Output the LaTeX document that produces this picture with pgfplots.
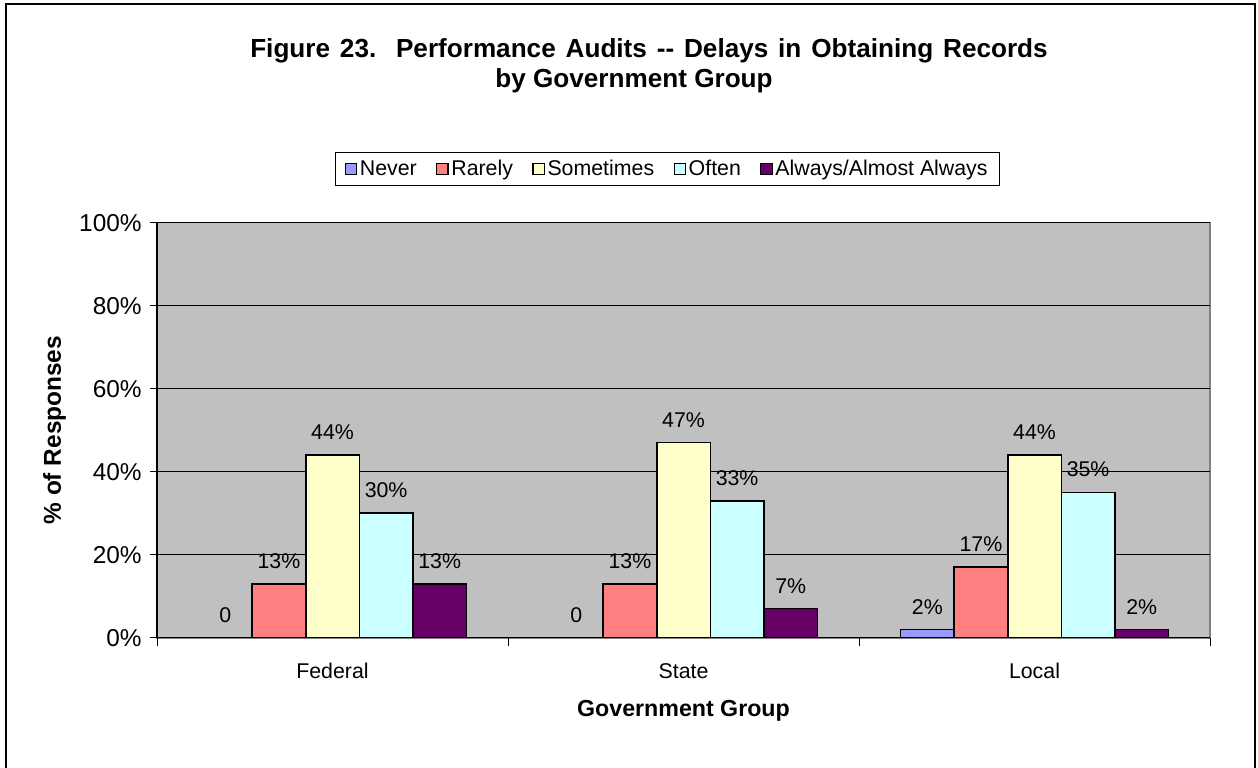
\documentclass[border=0pt]{standalone}
\usepackage{fontspec}
\setmainfont{Liberation Sans}
\usepackage{pgfplots}
\pgfplotsset{compat=1.18}

\definecolor{neverc}{HTML}{9999FF}
\definecolor{rarelyc}{HTML}{FF8080}
\definecolor{sometc}{HTML}{FFFFCC}
\definecolor{oftenc}{HTML}{CCFFFF}
\definecolor{alwaysc}{HTML}{660066}
\definecolor{plotbg}{HTML}{C0C0C0}

\newcommand{\txt}{\fontsize{16bp}{19bp}\selectfont}
\newcommand{\tsp}{\hspace{7.4bp}}

\begin{document}
\begin{tikzpicture}[x=0.75bp,y=0.75bp]
\useasboundingbox (0,0) rectangle (1258,767);
\draw[line width=1.5bp] (6,-5) -- (6,762.5) -- (1255,762.5) -- (1255,-5);

\node[font=\bfseries\fontsize{19.6bp}{22.5bp}\selectfont] at (649,716)
  {Figure\tsp 23.\tsp\tsp Performance\tsp Audits\tsp -\kern0pt-\tsp Delays\tsp in\tsp Obtaining\tsp Records};
\node[font=\bfseries\fontsize{19.6bp}{22.5bp}\selectfont] at (634,686)
  {by Government Group};

\begin{axis}[
  at={(117.75bp,96.975bp)}, anchor=south west,
  scale only axis, width=789.75bp, height=311.3bp,
  ybar=0pt, bar width=40.2bp,
  xmin=-0.5, xmax=2.5, ymin=0, ymax=100,
  xtick={0,1,2}, xticklabels={Federal,State,Local},
  minor xtick={-0.5,0.5,1.5,2.5},
  ytick={0,20,40,60,80,100},
  yticklabels={0\%,20\%,40\%,60\%,80\%,100\%},
  axis x line*=bottom, axis y line*=left,
  axis line style={black, line width=0.9bp},
  axis background/.style={fill=plotbg, draw=black!50, line width=1.2bp},
  tick align=outside,
  x tick style={draw=none},
  minor x tick style={draw=black, line width=0.75bp},
  minor tick length=6bp,
  major tick length=5bp,
  y tick style={black, line width=0.75bp},
  ymajorgrids, grid style={black, line width=0.75bp},
  xticklabel style={font=\txt, yshift=-10.5bp, text height=11.5bp, text depth=0pt},
  yticklabel style={font=\fontsize{18.3bp}{21bp}\selectfont, xshift=-3bp},
  xlabel={Government Group},
  ylabel={\% of Responses},
  xlabel style={font=\bfseries\fontsize{17.4bp}{20bp}\selectfont,
    at={(axis description cs:0.5,-0.1766)}, anchor=center},
  ylabel style={font=\bfseries\fontsize{18.3bp}{21bp}\selectfont,
    at={(axis description cs:-0.0973,0.5)}, anchor=center},
  every axis plot/.append style={draw=black, line width=1.2bp},
  point meta=explicit symbolic,
  nodes near coords,
  nodes near coords style={font=\txt, text=black, yshift=7.5bp},
  legend style={at={(0.4848,1.129)}, anchor=center, legend columns=5,
    draw=black, fill=white, line width=0.9bp, font=\txt,
    inner xsep=7bp, inner ysep=4bp,
    /tikz/every even column/.append style={column sep=12.5bp}},
  legend image code/.code={\draw[#1, draw=black, line width=0.9bp] (0bp,-4.2bp) rectangle (8.5bp,4.2bp);},
]
\addplot[fill=neverc] coordinates {(0,0) [0] (1,0) [0] (2,2) [2\%]};
\addplot[fill=rarelyc] coordinates {(0,13) [13\%] (1,13) [13\%] (2,17) [17\%]};
\addplot[fill=sometc] coordinates {(0,44) [44\%] (1,47) [47\%] (2,44) [44\%]};
\addplot[fill=oftenc] coordinates {(0,30) [30\%] (1,33) [33\%] (2,35) [35\%]};
\addplot[fill=alwaysc] coordinates {(0,13) [13\%] (1,7) [7\%] (2,2) [2\%]};
\legend{Never,Rarely,Sometimes,Often,Always/Almost Always}
\end{axis}
\end{tikzpicture}
\end{document}
